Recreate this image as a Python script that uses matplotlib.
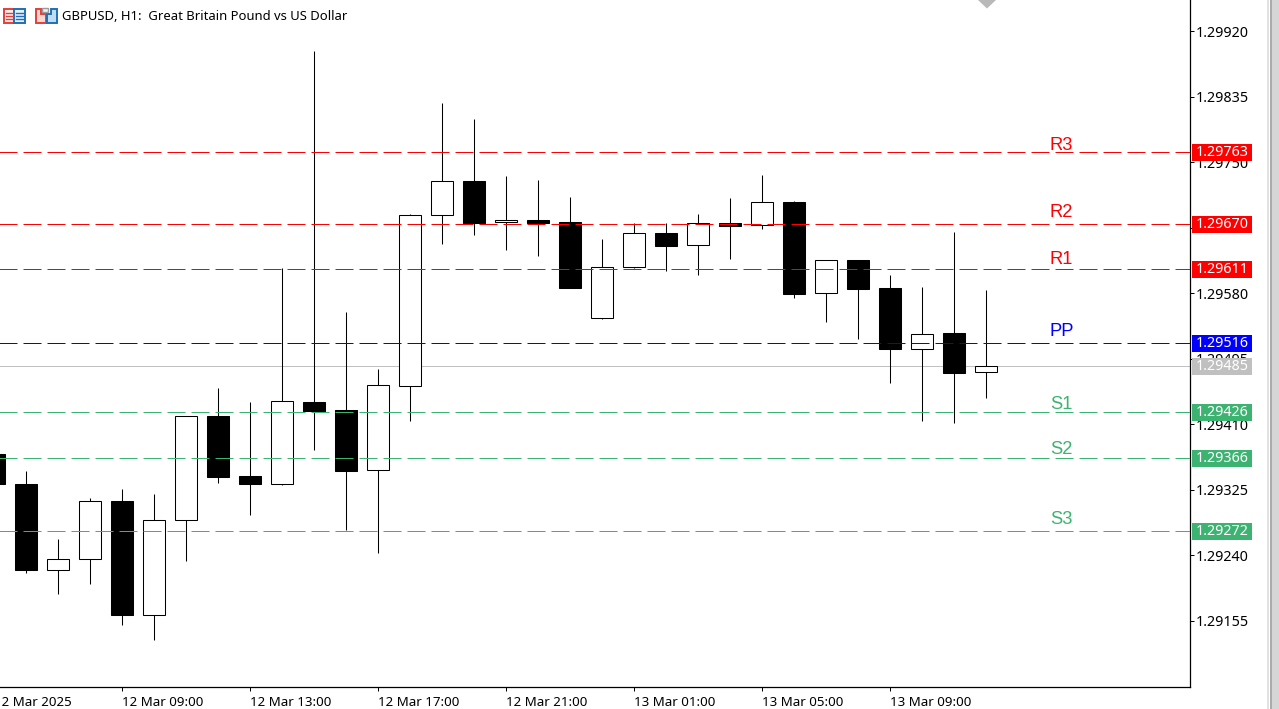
import matplotlib
matplotlib.use('Agg')
import matplotlib.pyplot as plt
from matplotlib.patches import Rectangle, Polygon

# ローソク足の値 (先頭は左端で切れている足)
opens = [1.29372, 1.29333, 1.29221, 1.29235, 1.29311, 1.29163, 1.29286, 1.29421, 1.29343, 1.29333,
         1.29439, 1.29429, 1.29351, 1.29460, 1.29681, 1.29726, 1.29672, 1.29675, 1.29672, 1.29548,
         1.29614, 1.29658, 1.29643, 1.29671, 1.29668, 1.29698, 1.29580, 1.29623, 1.29587, 1.29508,
         1.29528, 1.29478]
closes = [1.29333, 1.29221, 1.29235, 1.29311, 1.29163, 1.29286, 1.29421, 1.29342, 1.29333, 1.29440,
          1.29427, 1.29350, 1.29461, 1.29681, 1.29726, 1.29671, 1.29675, 1.29671, 1.29587, 1.29614,
          1.29658, 1.29641, 1.29671, 1.29667, 1.29698, 1.29579, 1.29623, 1.29585, 1.29508, 1.29527,
          1.29477, 1.29486]
highs = [1.29372, 1.29350, 1.29261, 1.29314, 1.29326, 1.29320, 1.29421, 1.29457, 1.29439, 1.29613,
         1.29894, 1.29556, 1.29482, 1.29683, 1.29827, 1.29806, 1.29732, 1.29727, 1.29705, 1.29650,
         1.29671, 1.29671, 1.29683, 1.29703, 1.29733, 1.29700, 1.29623, 1.29623, 1.29604, 1.29588,
         1.29659, 1.29584]
lows = [1.29333, 1.29217, 1.29190, 1.29203, 1.29150, 1.29130, 1.29233, 1.29334, 1.29292, 1.29331,
        1.29377, 1.29273, 1.29243, 1.29414, 1.29644, 1.29656, 1.29636, 1.29628, 1.29587, 1.29547,
        1.29613, 1.29609, 1.29604, 1.29624, 1.29663, 1.29574, 1.29543, 1.29521, 1.29464, 1.29414,
        1.29412, 1.29444]

level_names = ['R3', 'R2', 'R1', 'PP', 'S1', 'S2', 'S3']
level_values = [1.29763, 1.29670, 1.29611, 1.29516, 1.29426, 1.29366, 1.29272]
level_colors = ['#ff0000', '#ff0000', '#ff0000', '#0000ff', '#3cb371', '#3cb371', '#3cb371']
current_price = 1.29485

price_ticks = [1.29920, 1.29835, 1.29750, 1.29665, 1.29580, 1.29495, 1.29410, 1.29325, 1.29240, 1.29155]
time_tick_bars = [0, 4, 8, 12, 16, 20, 24, 28]
time_labels = ['12 Mar 2025', '12 Mar 09:00', '12 Mar 13:00', '12 Mar 17:00',
               '12 Mar 21:00', '13 Mar 01:00', '13 Mar 05:00', '13 Mar 09:00']

# ラベルをラインからどれだけ上に置くか (px)
label_offsets = [7, 11, 10, 11, 7, 9, 11]

W, H = 1279, 709
UI_FONT = ['Noto Sans', 'DejaVu Sans']
plt.rcParams['font.family'] = UI_FONT
plt.rcParams['font.size'] = 9.6

fig = plt.figure(figsize=(W / 100, H / 100), dpi=100)
ax = fig.add_axes([0, 22 / H, 1189.5 / W, 687 / H])

for s in ['top', 'left']:
    ax.spines[s].set_visible(False)
for s in ['right', 'bottom']:
    ax.spines[s].set_linewidth(0.9)

ax.yaxis.tick_right()
ax.set_yticks(price_ticks)
ax.set_yticklabels([f'{p:.5f}' for p in price_ticks], fontsize=10.3)
ax.set_xticks(time_tick_bars)
ax.set_xticklabels([])
ax.tick_params(axis='both', length=3, width=0.72, color='black', labelcolor='black')
ax.tick_params(axis='y', pad=1.5)

# set_xticks が範囲を広げるので目盛のあとで指定する
ax.set_xlim(0.1875, 37.36)
ax.set_ylim(1.290694, 1.299602)

# 時間軸ラベルは目盛の右側に置く
for bar, label in zip(time_tick_bars, time_labels):
    ax.annotate(label, xy=(bar, 0), xycoords=ax.get_xaxis_transform(), xytext=(0, -15),
                textcoords='offset pixels', ha='left', va='center', annotation_clip=False)

# 現在値のライン
ax.axhline(current_price, color='#c0c0c0', lw=0.72, zorder=1)

# ローソク足
for i, (o, h, l, c) in enumerate(zip(opens, highs, lows, closes)):
    ax.vlines(i, l, h, color='black', lw=0.75, zorder=2)
    fill = 'white' if c >= o else 'black'
    ax.add_patch(Rectangle((i - 0.335, min(o, c)), 0.67, abs(c - o), facecolor=fill,
                           edgecolor='black', lw=0.75, zorder=3))

# ピボットライン
for name, value, color, off in zip(level_names, level_values, level_colors, label_offsets):
    ax.plot([0, 37.36], [value, value], color=color, lw=0.72, zorder=4,
            linestyle=(0, (18, 6)), dash_capstyle='butt')
    ax.annotate(name, xy=(33, value), xytext=(0, off), textcoords='offset pixels', color=color,
                fontsize=13.2, family=['Liberation Sans', 'DejaVu Sans'], va='center', ha='left')

# 右の価格ラベルやアイコンはピクセル座標のオーバーレイに描く
ov = fig.add_axes([0, 0, 1, 1], facecolor='none')
ov.set_xlim(0, W)
ov.set_ylim(H, 0)
ov.axis('off')


def price_to_px(price):
    return H - ax.transData.transform((0, price))[1]


def price_box(price, color, text_color='white'):
    y = price_to_px(price) + 0.5
    ov.add_patch(Rectangle((1192, y - 8.5), 60, 17, facecolor=color, edgecolor='none', zorder=5))
    ov.text(1222, y, f'{price:.5f}', color=text_color, ha='center', va='center', zorder=6,
            fontsize=10.3)


for value, color in zip(level_values, level_colors):
    price_box(value, color)
price_box(current_price, '#c0c0c0')

# スクロールバー風の右端
ov.add_patch(Rectangle((1267, 0), 2, H, facecolor='#e2e2e2', edgecolor='none'))
ov.add_patch(Rectangle((1270, 0), 2, H, facecolor='#ababab', edgecolor='none'))
ov.add_patch(Rectangle((1272, 0), 7, H, facecolor='#d6d6d6', edgecolor='none'))

# 上端の三角マーカー
ov.add_patch(Polygon([(978, 0), (996, 0), (987, 8.5)], facecolor='#b9b9b9', edgecolor='none'))

# タイトル
ov.text(62, 16, 'GBPUSD, H1:  Great Britain Pound vs US Dollar', color='black', ha='left', va='center',
        fontsize=9.4)

# 左上アイコン
red, blue = '#e0403c', '#1f6fb5'
ov.add_patch(Rectangle((3.5, 8.5), 10.5, 14, facecolor='#fdeeec', edgecolor=red, lw=1.4))
ov.add_patch(Rectangle((14, 8.5), 10.5, 14, facecolor='#e6f0fa', edgecolor=blue, lw=1.4))
for y in [12.5, 15.5, 18.5]:
    ov.plot([6, 13], [y, y], color=red, lw=1)
    ov.plot([16, 23], [y, y], color=blue, lw=1)
ov.add_patch(Polygon([(35.5, 8.5), (41, 8.5), (41, 13.5), (46, 13.5), (46, 22.5), (35.5, 22.5)],
                     facecolor='#fdd5cf', edgecolor=red, lw=1.4))
ov.add_patch(Polygon([(47, 13.5), (51, 13.5), (51, 8.5), (56.5, 8.5), (56.5, 22.5), (47, 22.5)],
                     facecolor='#bfdcf5', edgecolor=blue, lw=1.4))
ov.add_patch(Rectangle((42, 8), 6, 3.5, facecolor='#f2f2f2', edgecolor='#9a9a9a', lw=1))

fig.savefig('out.png', dpi=100)
